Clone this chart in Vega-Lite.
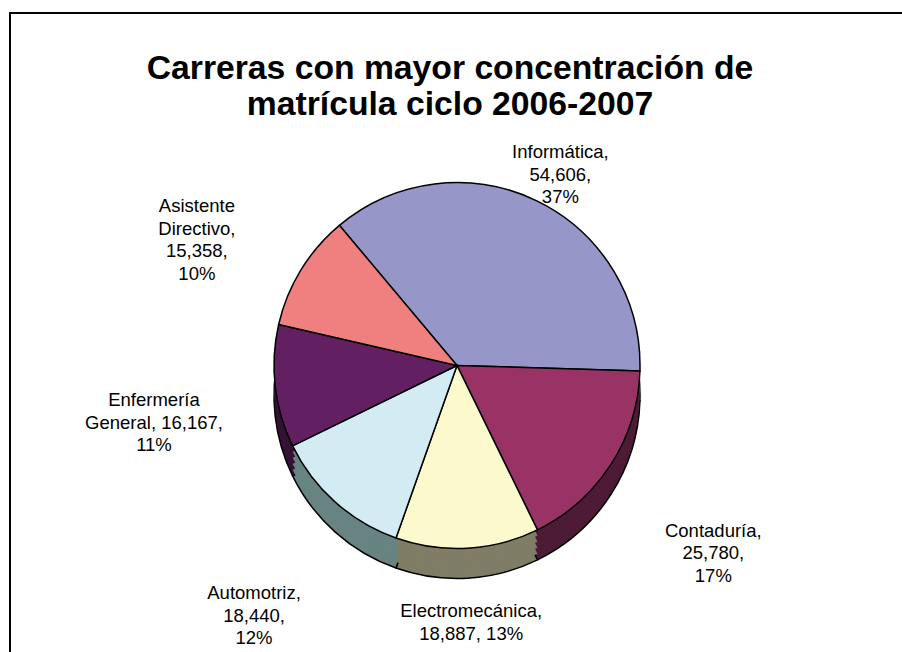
{
  "$schema": "https://vega.github.io/schema/vega-lite/v6.json",
  "width": 894,
  "height": 641,
  "autosize": "none",
  "padding": {"left": 10, "top": 13, "right": -2, "bottom": -2},
  "background": "white",
  "view": {"stroke": "black", "strokeWidth": 2},
  "title": {
    "text": ["Carreras con mayor concentración de", "matrícula ciclo 2006-2007"],
    "font": "Liberation Sans",
    "fontSize": 33.7,
    "fontWeight": "bold",
    "color": "black",
    "lineHeight": 36,
    "anchor": "middle",
    "frame": "group",
    "offset": -109,
    "dx": -7
  },
  "data": {
    "values": [
      {"orden": 1, "carrera": "Informática", "matricula": 54606, "porcentaje": 37, "etiqueta": "Informática,\n54,606,\n37%"},
      {"orden": 2, "carrera": "Contaduría", "matricula": 25780, "porcentaje": 17, "etiqueta": "Contaduría,\n25,780,\n17%"},
      {"orden": 3, "carrera": "Electromecánica", "matricula": 18887, "porcentaje": 13, "etiqueta": "Electromecánica,\n18,887, 13%"},
      {"orden": 4, "carrera": "Automotriz", "matricula": 18440, "porcentaje": 12, "etiqueta": "Automotriz,\n18,440,\n12%"},
      {"orden": 5, "carrera": "Enfermería General", "matricula": 16167, "porcentaje": 11, "etiqueta": "Enfermería\nGeneral, 16,167,\n11%"},
      {"orden": 6, "carrera": "Asistente Directivo", "matricula": 15358, "porcentaje": 10, "etiqueta": "Asistente\nDirectivo,\n15,358,\n10%"}
    ]
  },
  "encoding": {
    "theta": {"field": "matricula", "type": "quantitative", "stack": true, "scale": {"range": [-0.6981, 5.5851]}},
    "order": {"field": "orden", "type": "quantitative"}
  },
  "layer": [
    {
      "mark": {"type": "arc", "outerRadius": 183, "yOffset": 62, "stroke": "black", "strokeWidth": 1.5},
      "encoding": {"color": {"field": "carrera", "type": "nominal", "legend": null,
        "scale": {"domain": ["Informática", "Contaduría", "Electromecánica", "Automotriz", "Enfermería General", "Asistente Directivo"],
                  "range": ["#4B4B64", "#4D1B36", "#7F7D66", "#678483", "#361136", "#784040"]}}}
    },
    {
      "mark": {"type": "arc", "outerRadius": 183, "yOffset": 56},
      "encoding": {"color": {"field": "carrera", "type": "nominal", "legend": null,
        "scale": {"domain": ["Informática", "Contaduría", "Electromecánica", "Automotriz", "Enfermería General", "Asistente Directivo"],
                  "range": ["#4B4B64", "#4D1B36", "#7F7D66", "#678483", "#361136", "#784040"]}}}
    },
    {
      "mark": {"type": "arc", "outerRadius": 183, "yOffset": 50},
      "encoding": {"color": {"field": "carrera", "type": "nominal", "legend": null,
        "scale": {"domain": ["Informática", "Contaduría", "Electromecánica", "Automotriz", "Enfermería General", "Asistente Directivo"],
                  "range": ["#4B4B64", "#4D1B36", "#7F7D66", "#678483", "#361136", "#784040"]}}}
    },
    {
      "mark": {"type": "arc", "outerRadius": 183, "yOffset": 44},
      "encoding": {"color": {"field": "carrera", "type": "nominal", "legend": null,
        "scale": {"domain": ["Informática", "Contaduría", "Electromecánica", "Automotriz", "Enfermería General", "Asistente Directivo"],
                  "range": ["#4B4B64", "#4D1B36", "#7F7D66", "#678483", "#361136", "#784040"]}}}
    },
    {
      "mark": {"type": "arc", "outerRadius": 183, "yOffset": 38},
      "encoding": {"color": {"field": "carrera", "type": "nominal", "legend": null,
        "scale": {"domain": ["Informática", "Contaduría", "Electromecánica", "Automotriz", "Enfermería General", "Asistente Directivo"],
                  "range": ["#4B4B64", "#4D1B36", "#7F7D66", "#678483", "#361136", "#784040"]}}}
    },
    {
      "mark": {"type": "arc", "outerRadius": 183, "yOffset": 32, "stroke": "black", "strokeWidth": 1.5},
      "encoding": {"color": {"field": "carrera", "type": "nominal", "legend": null,
        "scale": {"domain": ["Informática", "Contaduría", "Electromecánica", "Automotriz", "Enfermería General", "Asistente Directivo"],
                  "range": ["#9696C8", "#993366", "#FCF9CD", "#D3ECF3", "#621F62", "#F08080"]}}}
    },
    {
      "mark": {"type": "text", "radius": 237, "yOffset": 32, "font": "Liberation Sans", "fontSize": 18.5, "lineBreak": "\n", "lineHeight": 22.5, "align": "center", "baseline": "middle", "color": "black"},
      "encoding": {"text": {"condition": {"test": "datum.carrera === 'Informática'", "field": "etiqueta"}, "value": ""}}
    },
    {
      "mark": {"type": "text", "radius": 246, "yOffset": 32, "font": "Liberation Sans", "fontSize": 18.5, "lineBreak": "\n", "lineHeight": 22.5, "align": "center", "baseline": "middle", "color": "black"},
      "encoding": {"text": {"condition": {"test": "datum.carrera === 'Electromecánica'", "field": "etiqueta"}, "value": ""}}
    },
    {
      "mark": {"type": "text", "radius": 305, "yOffset": 32, "font": "Liberation Sans", "fontSize": 18.5, "lineBreak": "\n", "lineHeight": 22.5, "align": "center", "baseline": "middle", "color": "black"},
      "encoding": {"text": {"condition": {"test": "datum.carrera !== 'Informática' && datum.carrera !== 'Electromecánica'", "field": "etiqueta"}, "value": ""}}
    }
  ],
  "resolve": {"scale": {"color": "independent"}},
  "config": {"view": {"stroke": "black", "strokeWidth": 2}}
}
